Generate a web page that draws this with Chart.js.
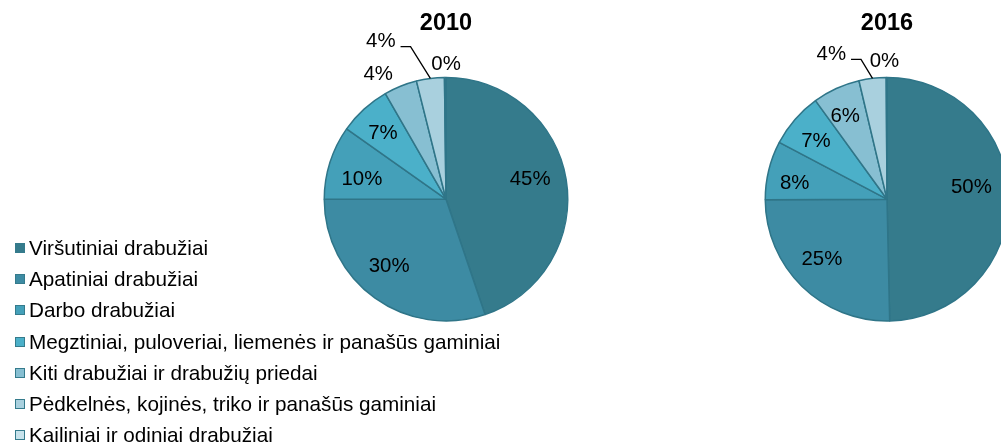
<!DOCTYPE html>
<html>
<head>
<meta charset="utf-8">
<script src="https://cdn.jsdelivr.net/npm/chart.js@4/dist/chart.umd.min.js"></script>
<style>
html,body{margin:0;padding:0;background:#fff;overflow:hidden;width:1001px;height:443px;}
#wrap{position:relative;width:1001px;height:443px;overflow:hidden;background:#fff;}
canvas{position:absolute;top:0;}
#c1{left:296px;}
#c2{left:737px;}
#legend{position:absolute;left:15px;top:232px;font-family:"Liberation Sans",Arial,sans-serif;font-size:20.7px;color:#000;}
.item{display:flex;align-items:center;height:31.3px;white-space:nowrap;}
.sw{width:8px;height:8px;border:1.5px solid #357b8c;margin-right:4px;flex:none;}
</style>
</head>
<body>
<div id="wrap">
  <canvas id="c1" width="300" height="332"></canvas>
  <canvas id="c2" width="300" height="332"></canvas>
  <div id="legend"></div>
</div>
<script>
// ---- data ----
const categories = [
  'Viršutiniai drabužiai',
  'Apatiniai drabužiai',
  'Darbo drabužiai',
  'Megztiniai, puloveriai, liemenės ir panašūs gaminiai',
  'Kiti drabužiai ir drabužių priedai',
  'Pėdkelnės, kojinės, triko ir panašūs gaminiai',
  'Kailiniai ir odiniai drabužiai'
];
const years = ['2010', '2016'];
const values2010 = [44.8, 30.2, 9.8, 6.9, 4.4, 3.7, 0.2];
const values2016 = [49.7, 25.3, 7.8, 7.3, 6.3, 3.6, 0.1];

// ---- styles ----
const colors = ['#357b8c', '#3d8ba3', '#44a0b9', '#4bb0c9', '#87bfd2', '#a9d0de', '#c7e2eb'];
const FONT = '"Liberation Sans", Arial, sans-serif';
// label placement: [angle offset from slice middle (deg), fraction of radius]
const place2010 = [[-4, 0.71], [4.8, 0.72], [-4.3, 0.71], [-1.4, 0.75], [-6.5, 1.17], [-15.1, 1.40], [0.4, 1.11]];
const place2016 = [[-7.2, 0.70], [2.9, 0.73], [-3.9, 0.77], [-2, 0.75], [-2.2, 0.76], [-14.2, 1.275], [-0.9, 1.13]];

const sliceLabels = {
  id: 'sliceLabels',
  afterDatasetsDraw(chart, args, opts) {
    const ctx = chart.ctx;
    const meta = chart.getDatasetMeta(0);
    const ds = chart.data.datasets[0];
    ctx.save();
    ctx.font = '20.4px ' + FONT;
    ctx.fillStyle = '#000';
    ctx.textAlign = 'center';
    ctx.textBaseline = 'middle';
    meta.data.forEach((arc, i) => {
      const p = arc.getProps(['x', 'y', 'startAngle', 'endAngle', 'outerRadius'], true);
      const mid = (p.startAngle + p.endAngle) / 2;
      const off = opts.place[i][0], f = opts.place[i][1];
      const a = mid + off * Math.PI / 180;
      const lx = p.x + Math.cos(a) * p.outerRadius * f;
      const ly = p.y + Math.sin(a) * p.outerRadius * f;
      const txt = Math.round(ds.data[i]) + '%';
      ctx.fillText(txt, lx, ly);
      if (opts.leader === i) {
        const w = ctx.measureText(txt).width;
        const ex = p.x + Math.cos(mid) * p.outerRadius;
        const ey = p.y + Math.sin(mid) * p.outerRadius;
        ctx.beginPath();
        ctx.moveTo(lx + w / 2 + 5, ly + 5);
        ctx.lineTo(lx + w / 2 + 15, ly + 5);
        ctx.lineTo(ex, ey);
        ctx.lineWidth = 1.3;
        ctx.strokeStyle = '#000';
        ctx.stroke();
      }
    });
    ctx.restore();
  }
};

function makePie(id, year, values, place) {
  return new Chart(document.getElementById(id), {
    type: 'pie',
    data: {
      labels: categories,
      datasets: [{
        data: values,
        backgroundColor: colors,
        borderColor: '#2f7588',
        borderWidth: 1.5
      }]
    },
    options: {
      responsive: false,
      animation: false,
      layout: { padding: { left: 27.5, right: 27.5, top: 0, bottom: 10 } },
      plugins: {
        legend: { display: false },
        tooltip: { enabled: false },
        title: {
          display: true, text: year, color: '#000',
          font: { family: FONT, size: 23.5, weight: 'bold' },
          padding: { top: 9, bottom: 39.2 }
        },
        sliceLabels: { place: place, leader: 5 }
      }
    },
    plugins: [sliceLabels]
  });
}

makePie('c1', years[0], values2010, place2010);
makePie('c2', years[1], values2016, place2016);

// legend
const lg = document.getElementById('legend');
categories.forEach((c, i) => {
  const row = document.createElement('div');
  row.className = 'item';
  const sw = document.createElement('span');
  sw.className = 'sw';
  sw.style.background = colors[i];
  const t = document.createElement('span');
  t.textContent = c;
  row.appendChild(sw);
  row.appendChild(t);
  lg.appendChild(row);
});
</script>
</body>
</html>
